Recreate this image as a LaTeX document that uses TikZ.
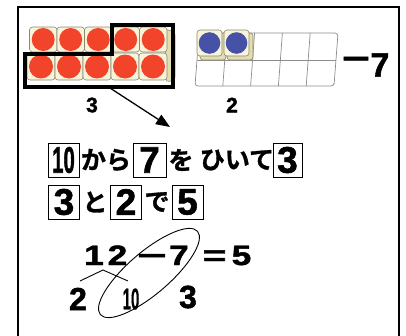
\documentclass[tikz,border=0pt]{standalone}
\usepackage{fontspec}
\setmainfont{Liberation Sans}
\newfontfamily\jp{Noto Sans CJK JP Bold}[FakeBold=1.2]
\newfontfamily\heavy{Liberation Sans Bold}[FakeBold=1.6]
\newfontfamily\midb{Liberation Sans Bold}[FakeBold=0.6]
\usetikzlibrary{arrows.meta}
\definecolor{cubefront}{HTML}{F8F4DA}
\definecolor{cubeside}{HTML}{E4DDB2}
\definecolor{cubeedge}{HTML}{8A8670}
\definecolor{redball}{HTML}{F2442A}
\definecolor{blueball}{HTML}{4652A6}
\definecolor{gridgray}{HTML}{8C8C8C}
\begin{document}
\begin{tikzpicture}[x=1pt,y=-1pt,
  cubebox/.style={draw=cubeedge, line width=0.6, fill=cubefront, rounded corners=3},
  cubeshade/.style={draw=cubeedge, line width=0.6, fill=cubeside, rounded corners=3},
  numbox/.style={draw, line width=1, minimum width=31, minimum height=34, inner sep=0pt, font=\heavy\fontsize{37}{37}\selectfont},
  kana/.style={inner sep=0pt, font=\jp\fontsize{25}{25}\selectfont},
  eq/.style={inner sep=0pt, anchor=base, font=\heavy\fontsize{28}{28}\selectfont},
  lab/.style={inner sep=0pt, font=\heavy\fontsize{21}{21}\selectfont},
  thin/.style={line width=0.9}]
\useasboundingbox (0,0) rectangle (406,335);
% frame
\draw[line width=2] (18,345) -- (18,7) -- (399,7) -- (399,345);
% red cubes: side strip
\draw[cubeshade] (165,29) -- (175,32) -- (175,80) -- (166,82) -- cycle;
% top row
\foreach \i in {0,...,4} {
  \draw[cubebox] (29.5+27.5*\i,27) rectangle ++(27.5,25);
  \fill[redball] (43.2+27.5*\i,39.5) circle (11.5);
}
% bottom row
\foreach \i in {0,...,4} {
  \draw[cubebox] (27+28*\i,53) rectangle ++(28,27);
  \fill[redball] (41+28*\i,66.5) circle (12);
}
% thick outline
\draw[line width=3.2, line join=miter] (25,54) -- (112,54) -- (112,25) -- (173,25) -- (173,87) -- (25,87) -- cycle;
\node[lab] (three) at (92,105) {3};
\coordinate (arrS) at (110,88);
\coordinate (arrE) at (170,127);
\draw[line width=1.3, -{Triangle[length=14pt,width=11pt]}] (arrS) -- (arrE);
% right ten frame
\draw[gridgray, line width=0.7, rounded corners=3] (199,33) -- (338,33) -- (334,86) -- (195,86) -- cycle;
\draw[gridgray, line width=0.7] (197,60) -- (336,60);
\foreach \t in {1,...,4} {
  \draw[gridgray, line width=0.7] (199+27.8*\t,33) -- (195+27.8*\t,86);
}
\foreach \i in {0,1} {
  \draw[cubeshade] (200+27*\i,33) rectangle ++(26,27);
  \draw[cubebox] (197+27*\i,30) rectangle ++(25,26);
  \fill[blueball] (209.5+27*\i,43) circle (10.8);
}
\node[lab] (two) at (232,105) {2};
\node[inner sep=0pt, font=\heavy\fontsize{32}{32}\selectfont] (minus7m) at (356,63) {\scalebox{1.5}[1]{−}};
\node[inner sep=0pt, font=\heavy\fontsize{34}{34}\selectfont] (minus7) at (380,65) {7};
% row 1
\node[numbox] (b10) at (63.5,160) {\scalebox{0.55}[1]{10}};
\node[kana] (kara) at (106,160) {から};
\node[numbox, minimum width=33] (b7) at (149.5,160) {7};
\node[kana] (wo) at (181,160) {を};
\node[kana] (hiite) at (237,160) {ひいて};
\node[numbox, minimum width=29] (b3) at (287.5,160) {3};
% row 2
\node[numbox] (c3) at (64,202) {3};
\node[kana] (to) at (95,202) {と};
\node[numbox] (c2) at (126,202) {2};
\node[kana] (de) at (157,202) {で};
\node[numbox] (c5) at (187.5,202) {5};
% equation
\node[eq] (e1) at (94,265) {\scalebox{1.25}[1]{1}};
\node[eq] (e2) at (117.5,265) {\scalebox{1.25}[1]{2}};
\node[eq] (em) at (152,265) {\scalebox{1.8}[1]{−}};
\node[eq] (e7) at (179,265) {\scalebox{1.25}[1]{7}};
\node[eq] (eeq) at (214.5,265) {\scalebox{1.45}[1]{=}};
\node[eq] (e5) at (241.5,265) {\scalebox{1.25}[1]{5}};
% decomposition
\coordinate (apex) at (103,270);
\coordinate (lend) at (80,281);
\coordinate (rend) at (128,281);
\draw[thin] (lend) -- (apex) -- (rend);
\node[inner sep=0pt, font=\heavy\fontsize{32}{32}\selectfont] (d2) at (78,299) {2};
\node[inner sep=0pt, font=\midb\fontsize{30}{30}\selectfont] (d10) at (131,299) {\scalebox{0.5}[1]{10}};
\node[inner sep=0pt, font=\heavy\fontsize{32}{32}\selectfont] (d3) at (188,297) {3};
\coordinate (ec) at (149,273);
\draw[thin, rotate around={40.6:(ec)}] (ec) ellipse (64 and 21);
\end{tikzpicture}
\end{document}
